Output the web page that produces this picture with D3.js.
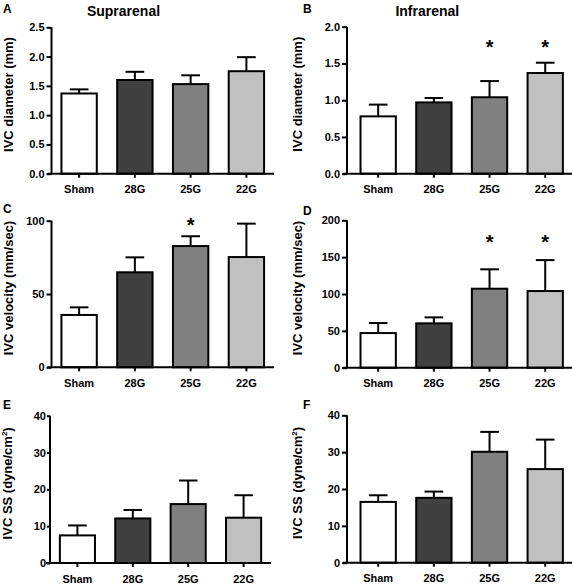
<!DOCTYPE html>
<html>
<head>
<meta charset="utf-8">
<script src="https://cdn.jsdelivr.net/npm/d3@7"></script>
<style>
  html, body { margin: 0; padding: 0; background: #fff; }
  svg { display: block; font-family: "Liberation Sans", Arial, Helvetica, sans-serif; font-weight: bold; }
</style>
</head>
<body>
<svg id="chart" width="572" height="587"></svg>
<script>
// ---------- data ----------
const categories = ["Sham", "28G", "25G", "22G"];
const barColors = ["#ffffff", "#404040", "#808080", "#c0c0c0"];

const diamSupraMean = [1.37, 1.60, 1.53, 1.75];
const diamSupraErr  = [0.07, 0.14, 0.15, 0.24];
const diamInfraMean = [0.78, 0.97, 1.04, 1.37];
const diamInfraErr  = [0.16, 0.06, 0.22, 0.14];
const velSupraMean  = [35.7, 64.8, 82.7, 75.2];
const velSupraErr   = [5.2, 10.2, 6.7, 22.8];
const velInfraMean  = [47.0, 60.2, 107.2, 104.0];
const velInfraErr   = [13.6, 8.1, 26.3, 42.0];
const ssSupraMean   = [7.5, 12.1, 16.0, 12.3];
const ssSupraErr    = [2.7, 2.3, 6.4, 6.1];
const ssInfraMean   = [16.5, 17.6, 30.1, 25.4];
const ssInfraErr    = [1.8, 1.7, 5.4, 8.0];

const diamSupraSig = [false, false, false, false];
const diamInfraSig = [false, false, true, true];
const velSupraSig  = [false, false, true, false];
const velInfraSig  = [false, false, true, true];
const ssSupraSig   = [false, false, false, false];
const ssInfraSig   = [false, false, false, false];

const diamSupraTicks = [0, 0.5, 1.0, 1.5, 2.0, 2.5];
const diamInfraTicks = [0, 0.5, 1.0, 1.5, 2.0];
const velSupraTicks  = [0, 50, 100];
const velInfraTicks  = [0, 50, 100, 150, 200];
const ssTicks        = [0, 10, 20, 30, 40];

const columnTitles = ["Suprarenal", "Infrarenal"];
const panelLetters = ["A", "B", "C", "D", "E", "F"];

// ---------- layout ----------
const panels = [
  {letter: "A", mean: diamSupraMean, err: diamSupraErr, sig: diamSupraSig, ticks: diamSupraTicks, fmt: d3.format(".1f"),
   ymax: 2.5, starAt: 0, label: "IVC diameter (mm)", x0: 51.5, x1: 274, po: 0.16, top: 27.3, bottom: 173.7, tick: 5,
   lx: 13, letterPos: [3, 13]},
  {letter: "B", mean: diamInfraMean, err: diamInfraErr, sig: diamInfraSig, ticks: diamInfraTicks, fmt: d3.format(".1f"),
   ymax: 2.0, starAt: 1.77, label: "IVC diameter (mm)", x0: 347, x1: 576.4, po: 0.225, top: 26.7, bottom: 173.7, tick: 5,
   lx: 302, letterPos: [303, 13]},
  {letter: "C", mean: velSupraMean, err: velSupraErr, sig: velSupraSig, ticks: velSupraTicks, fmt: d3.format("d"),
   ymax: 100, starAt: 99.3, label: "IVC velocity (mm/sec)", x0: 51.5, x1: 274, po: 0.16, top: 220.7, bottom: 367.3, tick: 5,
   lx: 13, letterPos: [3, 213]},
  {letter: "D", mean: velInfraMean, err: velInfraErr, sig: velInfraSig, ticks: velInfraTicks, fmt: d3.format("d"),
   ymax: 200, starAt: 175.6, label: "IVC velocity (mm/sec)", x0: 347, x1: 576.4, po: 0.225, top: 220.3, bottom: 367.7, tick: 5,
   lx: 302, letterPos: [303, 215]},
  {letter: "E", mean: ssSupraMean, err: ssSupraErr, sig: ssSupraSig, ticks: ssTicks, fmt: d3.format("d"),
   ymax: 40, starAt: 0, label: "IVC SS (dyne/cm", sup: true, x0: 50, x1: 271, po: 0.16, top: 415.7, bottom: 563, tick: 3,
   lx: 12, letterPos: [3, 408.5]},
  {letter: "F", mean: ssInfraMean, err: ssInfraErr, sig: ssInfraSig, ticks: ssTicks, fmt: d3.format("d"),
   ymax: 40, starAt: 0, label: "IVC SS (dyne/cm", sup: true, x0: 347, x1: 576.4, po: 0.225, top: 415.3, bottom: 562.7, tick: 5,
   lx: 302, letterPos: [303, 408.5]}
];

const svg = d3.select("#chart");

// column titles
svg.append("text").attr("x", 123.5).attr("y", 16).attr("text-anchor", "middle")
  .attr("font-size", 14).text(columnTitles[0]);
svg.append("text").attr("x", 427.3).attr("y", 16).attr("text-anchor", "middle")
  .attr("font-size", 14).text(columnTitles[1]);

panels.forEach((p, pi) => {
  const g = svg.append("g");
  const x = d3.scaleBand().domain(categories).range([p.x0, p.x1])
    .paddingInner(0.33).paddingOuter(p.po);
  const y = d3.scaleLinear().domain([0, p.ymax]).range([p.bottom, p.top]);

  const rows = categories.map((c, i) => ({c, m: p.mean[i], e: p.err[i], s: p.sig[i], col: barColors[i]}));

  // error bars (upper only)
  const capW = x.bandwidth() * 0.5;
  const eb = g.append("g").attr("stroke", "#000").attr("stroke-width", 2);
  rows.forEach(r => {
    const cx = x(r.c) + x.bandwidth() / 2;
    eb.append("line").attr("x1", cx).attr("x2", cx).attr("y1", y(r.m)).attr("y2", y(r.m + r.e));
    eb.append("line").attr("x1", cx - capW / 2).attr("x2", cx + capW / 2).attr("y1", y(r.m + r.e)).attr("y2", y(r.m + r.e));
  });

  // bars
  g.append("g").selectAll("rect").data(rows).join("rect")
    .attr("x", d => x(d.c) + 1)
    .attr("width", x.bandwidth() - 2)
    .attr("y", d => y(d.m))
    .attr("height", d => y(0) - y(d.m))
    .attr("fill", d => d.col)
    .attr("stroke", "#000").attr("stroke-width", 2);

  // significance stars
  g.append("g").selectAll("text").data(rows.filter(r => r.s)).join("text")
    .attr("x", d => x(d.c) + x.bandwidth() / 2)
    .attr("y", y(p.starAt) + 10.5)
    .attr("text-anchor", "middle").attr("font-size", 20).text("*");

  // y axis
  const ya = g.append("g").attr("transform", `translate(${p.x0},0)`)
    .call(d3.axisLeft(y).tickValues(p.ticks).tickFormat(p.fmt).tickSize(p.tick).tickPadding(p.tick === 3 ? 1 : 2));
  ya.select(".domain").attr("stroke-width", 2).attr("d", `M0,${p.top}V${p.bottom}`);
  ya.selectAll(".tick line").attr("stroke-width", 2);
  ya.selectAll(".tick text").attr("font-size", 11).attr("font-family", null).attr("fill", "#000");

  // x axis
  const xa = g.append("g").attr("transform", `translate(0,${p.bottom})`)
    .call(d3.axisBottom(x).tickSize(4).tickPadding(8));
  xa.select(".domain").attr("stroke-width", 2).attr("d", `M${p.x0 - 4},0H${Math.min(p.x1, 572)}`);
  xa.selectAll(".tick line").attr("stroke-width", 2);
  xa.selectAll(".tick text").attr("font-size", 11).attr("font-family", null).attr("fill", "#000");

  // y label
  const ly = (p.top + p.bottom) / 2 - 6;
  const lt = svg.append("text").attr("transform", `translate(${p.lx},${ly}) rotate(-90)`)
    .attr("text-anchor", "middle").attr("font-size", 13);
  lt.append("tspan").text(p.label);
  if (p.sup) {
    lt.append("tspan").attr("font-size", 8).attr("dy", -5).text("2");
    lt.append("tspan").attr("dy", 5).text(")");
  }

  // panel letter
  svg.append("text").attr("x", p.letterPos[0]).attr("y", p.letterPos[1])
    .attr("font-size", 12).text(panelLetters[pi]);
});
</script>
</body>
</html>
